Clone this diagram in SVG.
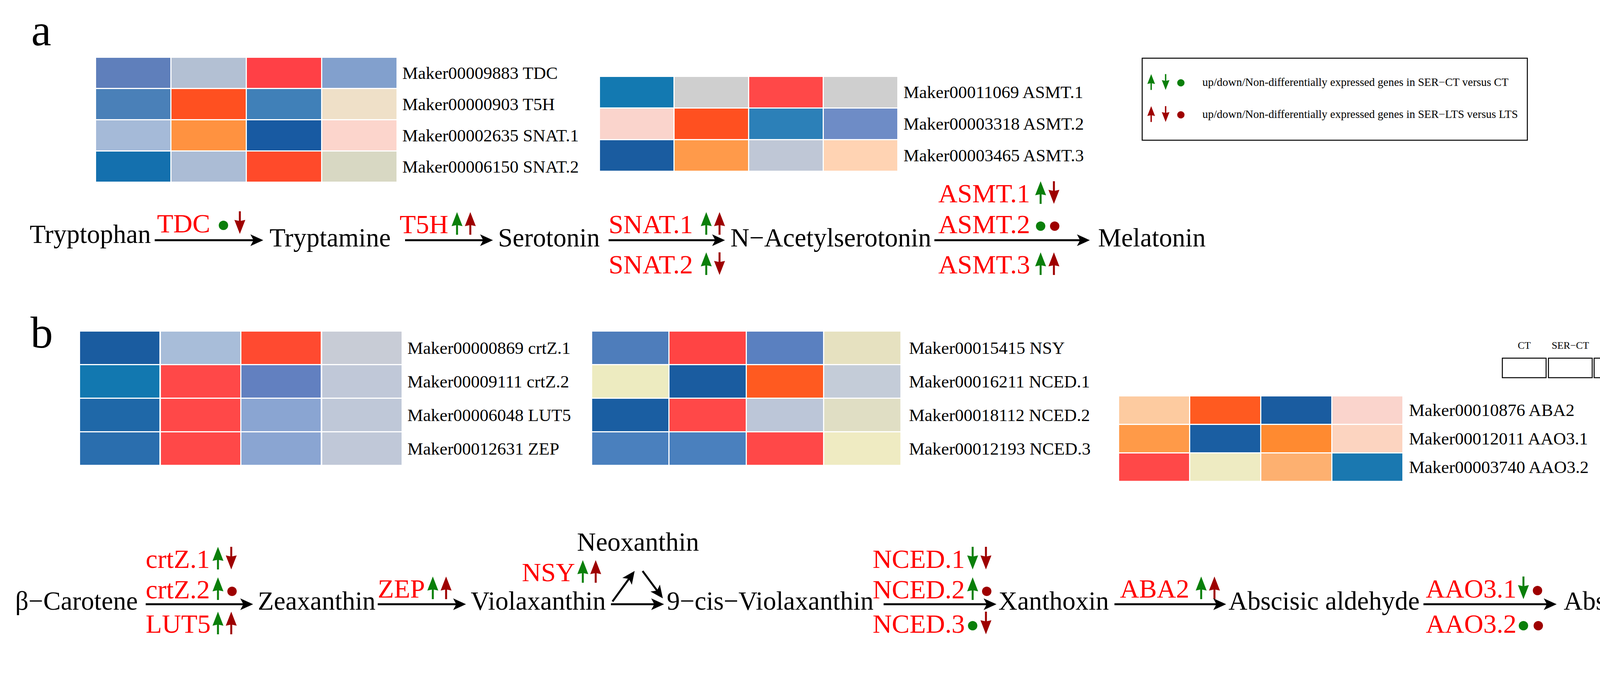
<svg xmlns="http://www.w3.org/2000/svg" width="4395" height="1741" viewBox="0 0 4395 1741">
<style>
text{font-family:"Liberation Serif","Times New Roman",serif}
.pl{font-size:115px;fill:#000}
.hl{font-size:45px;fill:#000}
.nd{font-size:67px;fill:#000}
.ez{font-size:68px;fill:#FF0000}
.lg{font-size:29px;fill:#000}
.cb{font-family:"Liberation Sans",Arial,sans-serif;font-size:28px;fill:#000}
.ct{font-size:26px;fill:#000}
.ar{stroke:#000;stroke-width:5;fill:none}
.tk{stroke:#000;stroke-width:2}
.bx{fill:#fff;stroke:#000;stroke-width:2.5}
</style>
<defs>
<marker id="ah" viewBox="-54 -17 56 34" refX="-20" refY="0" markerWidth="56" markerHeight="34" markerUnits="userSpaceOnUse" orient="auto">
<path d="M0,0 L-33,-15 L-25,0 L-33,15 Z" fill="#000"/>
</marker>
<linearGradient id="cg" x1="0" y1="0" x2="0" y2="1">
<stop offset="0" stop-color="#EE4239"/>
<stop offset="0.15" stop-color="#FF6A3A"/>
<stop offset="0.3" stop-color="#FDAE7A"/>
<stop offset="0.43" stop-color="#FAD6CC"/>
<stop offset="0.56" stop-color="#EEEBC6"/>
<stop offset="0.7" stop-color="#B8C6DC"/>
<stop offset="0.85" stop-color="#5F88C2"/>
<stop offset="1" stop-color="#1A6FAD"/>
</linearGradient>
<g id="ug"><line x1="0" y1="29" x2="0" y2="2" stroke="#0A7F0A" stroke-width="5"/><path d="M0,-29 L14,7 L0,4 L-14,7 Z" fill="#0A7F0A"/></g>
<g id="ur"><line x1="0" y1="29" x2="0" y2="2" stroke="#9E0000" stroke-width="5"/><path d="M0,-29 L14,7 L0,4 L-14,7 Z" fill="#9E0000"/></g>
<g id="dg"><use href="#ug" transform="rotate(180)"/></g>
<g id="dr"><use href="#ur" transform="rotate(180)"/></g>
<circle id="og" r="12" fill="#0A7F0A"/>
<circle id="or" r="12" fill="#9E0000"/>
</defs>
<rect width="4395" height="1741" fill="#fff"/>

<text class="pl" x="80" y="116">a</text>
<text class="pl" x="78" y="890">b</text>

<!-- heatmap a-left -->
<g id="heatmap-a1">
<rect x="246" y="148" width="190" height="77" fill="#5F7FBB"/><rect x="439" y="148" width="190" height="77" fill="#B3C0D3"/><rect x="632" y="148" width="190" height="77" fill="#FF4046"/><rect x="825" y="148" width="190" height="77" fill="#82A0CD"/>
<rect x="246" y="228" width="190" height="77" fill="#4A80B8"/><rect x="439" y="228" width="190" height="77" fill="#FF5020"/><rect x="632" y="228" width="190" height="77" fill="#4080B8"/><rect x="825" y="228" width="190" height="77" fill="#EFE0C8"/>
<rect x="246" y="308" width="190" height="77" fill="#A5BAD8"/><rect x="439" y="308" width="190" height="77" fill="#FF9240"/><rect x="632" y="308" width="190" height="77" fill="#185AA2"/><rect x="825" y="308" width="190" height="77" fill="#FCD5CC"/>
<rect x="246" y="388" width="190" height="77" fill="#1470AE"/><rect x="439" y="388" width="190" height="77" fill="#ABBCD5"/><rect x="632" y="388" width="190" height="77" fill="#FF4A2A"/><rect x="825" y="388" width="190" height="77" fill="#D8D8C3"/>
<text class="hl" x="1030" y="202">Maker00009883 TDC</text>
<text class="hl" x="1030" y="282">Maker00000903 T5H</text>
<text class="hl" x="1030" y="362">Maker00002635 SNAT.1</text>
<text class="hl" x="1030" y="442">Maker00006150 SNAT.2</text>
</g>

<!-- heatmap a-middle -->
<g id="heatmap-a2">
<rect x="1536" y="197" width="188" height="78" fill="#1379B1"/><rect x="1727" y="197" width="188" height="78" fill="#CFCFCF"/><rect x="1918" y="197" width="188" height="78" fill="#FF4848"/><rect x="2109" y="197" width="188" height="78" fill="#CFCFCF"/>
<rect x="1536" y="278" width="188" height="78" fill="#FAD4CC"/><rect x="1727" y="278" width="188" height="78" fill="#FF5020"/><rect x="1918" y="278" width="188" height="78" fill="#2C80B8"/><rect x="2109" y="278" width="188" height="78" fill="#6E8CC6"/>
<rect x="1536" y="359" width="188" height="78" fill="#1A5CA0"/><rect x="1727" y="359" width="188" height="78" fill="#FF9A4A"/><rect x="1918" y="359" width="188" height="78" fill="#BFC7D6"/><rect x="2109" y="359" width="188" height="78" fill="#FFD3B3"/>
<text class="hl" x="2313" y="251">Maker00011069 ASMT.1</text>
<text class="hl" x="2313" y="332">Maker00003318 ASMT.2</text>
<text class="hl" x="2313" y="413">Maker00003465 ASMT.3</text>
</g>

<!-- legend -->
<g id="legend">
<rect class="bx" x="2924" y="149" width="986" height="210"/>
<use href="#ug" transform="translate(2947,210) scale(0.7)"/>
<use href="#dg" transform="translate(2984,210) scale(0.7)"/>
<use href="#og" transform="translate(3023,212) scale(0.78)"/>
<text class="lg" x="3078" y="220">up/down/Non-differentially expressed genes in SER−CT versus CT</text>
<use href="#ur" transform="translate(2947,292) scale(0.7)"/>
<use href="#dr" transform="translate(2984,292) scale(0.7)"/>
<use href="#or" transform="translate(3023,294) scale(0.78)"/>
<text class="lg" x="3078" y="302">up/down/Non-differentially expressed genes in SER−LTS versus LTS</text>
</g>

<!-- colorbar -->
<g id="colorbar">
<rect x="4140" y="401" width="40" height="417" fill="url(#cg)"/>
<line class="tk" x1="4180" y1="476" x2="4188" y2="476"/>
<line class="tk" x1="4180" y1="557" x2="4188" y2="557"/>
<line class="tk" x1="4180" y1="637" x2="4188" y2="637"/>
<line class="tk" x1="4180" y1="718" x2="4188" y2="718"/>
<line class="tk" x1="4180" y1="799" x2="4188" y2="799"/>
<text class="cb" x="4196" y="486">1.00</text>
<text class="cb" x="4196" y="567">0.50</text>
<text class="cb" x="4196" y="647">0.00</text>
<text class="cb" x="4196" y="728">−0.50</text>
<text class="cb" x="4196" y="809">−1.00</text>
</g>

<!-- pathway a nodes -->
<g id="n-tryptophan"><text class="nd" x="76" y="622">Tryptophan</text></g>
<g id="n-tryptamine"><text class="nd" x="690" y="631">Tryptamine</text></g>
<g id="n-serotonin"><text class="nd" x="1275" y="631">Serotonin</text></g>
<g id="n-nacetyl"><text class="nd" x="1870" y="631">N−Acetylserotonin</text></g>
<g id="n-melatonin"><text class="nd" x="2811" y="631">Melatonin</text></g>

<!-- pathway a enzymes -->
<g id="e-TDC"><text class="ez" x="402" y="595">TDC</text><use href="#og" x="572" y="577"/><use href="#dr" x="614" y="570"/></g>
<g id="e-T5H"><text class="ez" x="1023" y="597">T5H</text><use href="#ug" x="1170" y="572"/><use href="#ur" x="1204" y="572"/></g>
<g id="e-SNAT1"><text class="ez" x="1558" y="597">SNAT.1</text><use href="#ug" x="1808" y="572"/><use href="#ur" x="1842" y="572"/></g>
<g id="e-SNAT2"><text class="ez" x="1558" y="700">SNAT.2</text><use href="#ug" x="1808" y="675"/><use href="#dr" x="1842" y="675"/></g>
<g id="e-ASMT1"><text class="ez" x="2402" y="518">ASMT.1</text><use href="#ug" x="2664" y="493"/><use href="#dr" x="2698" y="493"/></g>
<g id="e-ASMT2"><text class="ez" x="2402" y="597">ASMT.2</text><use href="#og" x="2664" y="579"/><use href="#or" x="2700" y="579"/></g>
<g id="e-ASMT3"><text class="ez" x="2402" y="700">ASMT.3</text><use href="#ug" x="2664" y="675"/><use href="#ur" x="2698" y="675"/></g>

<!-- heatmap b-left -->
<g id="heatmap-b1">
<rect x="205" y="849" width="203" height="83" fill="#1A5CA0"/><rect x="412" y="849" width="203" height="83" fill="#A8BDD9"/><rect x="618" y="849" width="203" height="83" fill="#FF4A30"/><rect x="825" y="849" width="203" height="83" fill="#C8CCD6"/>
<rect x="205" y="935" width="203" height="83" fill="#1278B0"/><rect x="412" y="935" width="203" height="83" fill="#FF4848"/><rect x="618" y="935" width="203" height="83" fill="#6280C0"/><rect x="825" y="935" width="203" height="83" fill="#C0C8D8"/>
<rect x="205" y="1021" width="203" height="83" fill="#1F68A8"/><rect x="412" y="1021" width="203" height="83" fill="#FF4848"/><rect x="618" y="1021" width="203" height="83" fill="#8AA5D2"/><rect x="825" y="1021" width="203" height="83" fill="#BFC8D8"/>
<rect x="205" y="1107" width="203" height="83" fill="#2A6EAE"/><rect x="412" y="1107" width="203" height="83" fill="#FF4848"/><rect x="618" y="1107" width="203" height="83" fill="#8AA5D2"/><rect x="825" y="1107" width="203" height="83" fill="#C0C8D8"/>
<text class="hl" x="1043" y="906">Maker00000869 crtZ.1</text>
<text class="hl" x="1043" y="992">Maker00009111 crtZ.2</text>
<text class="hl" x="1043" y="1078">Maker00006048 LUT5</text>
<text class="hl" x="1043" y="1164">Maker00012631 ZEP</text>
</g>

<!-- heatmap b-middle -->
<g id="heatmap-b2">
<rect x="1516" y="849" width="195" height="83" fill="#4E7DBB"/><rect x="1714" y="849" width="195" height="83" fill="#FF4444"/><rect x="1912" y="849" width="195" height="83" fill="#5A80C0"/><rect x="2110" y="849" width="195" height="83" fill="#E6E1C0"/>
<rect x="1516" y="935" width="195" height="83" fill="#EDEBC0"/><rect x="1714" y="935" width="195" height="83" fill="#1A5CA0"/><rect x="1912" y="935" width="195" height="83" fill="#FF5A20"/><rect x="2110" y="935" width="195" height="83" fill="#C4CCD8"/>
<rect x="1516" y="1021" width="195" height="83" fill="#1A5EA2"/><rect x="1714" y="1021" width="195" height="83" fill="#FF4848"/><rect x="1912" y="1021" width="195" height="83" fill="#BCC6D8"/><rect x="2110" y="1021" width="195" height="83" fill="#E0DEC4"/>
<rect x="1516" y="1107" width="195" height="83" fill="#4A80BE"/><rect x="1714" y="1107" width="195" height="83" fill="#4A80BE"/><rect x="1912" y="1107" width="195" height="83" fill="#FF4848"/><rect x="2110" y="1107" width="195" height="83" fill="#EFEBC2"/>
<text class="hl" x="2327" y="906">Maker00015415 NSY</text>
<text class="hl" x="2327" y="992">Maker00016211 NCED.1</text>
<text class="hl" x="2327" y="1078">Maker00018112 NCED.2</text>
<text class="hl" x="2327" y="1164">Maker00012193 NCED.3</text>
</g>

<!-- heatmap b-right -->
<g id="heatmap-b3">
<rect x="2865" y="1015" width="179" height="70" fill="#FDCBA0"/><rect x="3047" y="1015" width="179" height="70" fill="#FF5A20"/><rect x="3229" y="1015" width="179" height="70" fill="#1A5CA0"/><rect x="3411" y="1015" width="179" height="70" fill="#FAD4CC"/>
<rect x="2865" y="1088" width="179" height="70" fill="#FF9A48"/><rect x="3047" y="1088" width="179" height="70" fill="#1A5EA2"/><rect x="3229" y="1088" width="179" height="70" fill="#FF8A30"/><rect x="3411" y="1088" width="179" height="70" fill="#FCD4C0"/>
<rect x="2865" y="1161" width="179" height="70" fill="#FF4848"/><rect x="3047" y="1161" width="179" height="70" fill="#EEEBC2"/><rect x="3229" y="1161" width="179" height="70" fill="#FDB070"/><rect x="3411" y="1161" width="179" height="70" fill="#1A78B0"/>
<text class="hl" x="3607" y="1065">Maker00010876 ABA2</text>
<text class="hl" x="3607" y="1138">Maker00012011 AAO3.1</text>
<text class="hl" x="3607" y="1211">Maker00003740 AAO3.2</text>
</g>

<!-- group legend boxes -->
<g id="group-legend">
<text class="ct" x="3902" y="893" text-anchor="middle">CT</text>
<text class="ct" x="4020" y="893" text-anchor="middle">SER−CT</text>
<text class="ct" x="4137" y="893" text-anchor="middle">LTS</text>
<text class="ct" x="4255" y="893" text-anchor="middle">SER−LTS</text>
<rect class="bx" x="3846" y="917" width="112" height="50"/>
<rect class="bx" x="3964" y="917" width="112" height="50"/>
<rect class="bx" x="4081" y="917" width="112" height="50"/>
<rect class="bx" x="4199" y="917" width="112" height="50"/>
</g>

<!-- pathway b nodes -->
<g id="n-carotene"><text class="nd" x="39" y="1561">β−Carotene</text></g>
<g id="n-zeaxanthin"><text class="nd" x="660" y="1561">Zeaxanthin</text></g>
<g id="n-violaxanthin"><text class="nd" x="1205" y="1561">Violaxanthin</text></g>
<g id="n-neoxanthin"><text class="nd" x="1477" y="1410">Neoxanthin</text></g>
<g id="n-9cis"><text class="nd" x="1707" y="1561">9−cis−Violaxanthin</text></g>
<g id="n-xanthoxin"><text class="nd" x="2556" y="1561">Xanthoxin</text></g>
<g id="n-aldehyde"><text class="nd" x="3145" y="1561">Abscisic aldehyde</text></g>
<g id="n-aba"><text class="nd" x="4003" y="1561">Abscisic acid</text></g>

<!-- pathway b enzymes -->
<g id="e-crtZ1"><text class="ez" x="373" y="1454">crtZ.1</text><use href="#ug" x="558" y="1429"/><use href="#dr" x="592" y="1429"/></g>
<g id="e-crtZ2"><text class="ez" x="373" y="1532">crtZ.2</text><use href="#ug" x="558" y="1507"/><use href="#or" x="594" y="1514"/></g>
<g id="e-LUT5"><text class="ez" x="373" y="1620">LUT5</text><use href="#ug" x="558" y="1595"/><use href="#ur" x="592" y="1595"/></g>
<g id="e-ZEP"><text class="ez" x="967" y="1530">ZEP</text><use href="#ug" x="1108" y="1505"/><use href="#ur" x="1142" y="1505"/></g>
<g id="e-NSY"><text class="ez" x="1336" y="1488">NSY</text><use href="#ug" x="1492" y="1463"/><use href="#ur" x="1525" y="1463"/></g>
<g id="e-NCED1"><text class="ez" x="2234" y="1454">NCED.1</text><use href="#dg" x="2490" y="1429"/><use href="#dr" x="2524" y="1429"/></g>
<g id="e-NCED2"><text class="ez" x="2234" y="1532">NCED.2</text><use href="#ug" x="2490" y="1507"/><use href="#or" x="2526" y="1514"/></g>
<g id="e-NCED3"><text class="ez" x="2234" y="1620">NCED.3</text><use href="#og" x="2490" y="1602"/><use href="#dr" x="2524" y="1595"/></g>
<g id="e-ABA2"><text class="ez" x="2867" y="1530">ABA2</text><use href="#ug" x="3075" y="1505"/><use href="#ur" x="3109" y="1505"/></g>
<g id="e-AAO31"><text class="ez" x="3650" y="1530">AAO3.1</text><use href="#dg" x="3900" y="1505"/><use href="#or" x="3936" y="1512"/></g>
<g id="e-AAO32"><text class="ez" x="3650" y="1620">AAO3.2</text><use href="#og" x="3900" y="1602"/><use href="#or" x="3938" y="1602"/></g>

<!-- connectors -->
<g id="connectors">
<line class="ar" x1="396" y1="615" x2="654" y2="615" marker-end="url(#ah)"/>
<line class="ar" x1="1037" y1="615" x2="1242" y2="615" marker-end="url(#ah)"/>
<line class="ar" x1="1558" y1="615" x2="1836" y2="615" marker-end="url(#ah)"/>
<line class="ar" x1="2392" y1="615" x2="2770" y2="615" marker-end="url(#ah)"/>
<line class="ar" x1="373" y1="1547" x2="628" y2="1547" marker-end="url(#ah)"/>
<line class="ar" x1="967" y1="1547" x2="1173" y2="1547" marker-end="url(#ah)"/>
<line class="ar" x1="1564" y1="1547" x2="1680" y2="1547" marker-end="url(#ah)"/>
<line class="ar" x1="1568" y1="1540" x2="1613" y2="1478" marker-end="url(#ah)"/>
<line class="ar" x1="1645" y1="1462" x2="1685" y2="1516" marker-end="url(#ah)"/>
<line class="ar" x1="2262" y1="1547" x2="2531" y2="1547" marker-end="url(#ah)"/>
<line class="ar" x1="2853" y1="1547" x2="3119" y2="1547" marker-end="url(#ah)"/>
<line class="ar" x1="3644" y1="1547" x2="3965" y2="1547" marker-end="url(#ah)"/>
</g>
</svg>
